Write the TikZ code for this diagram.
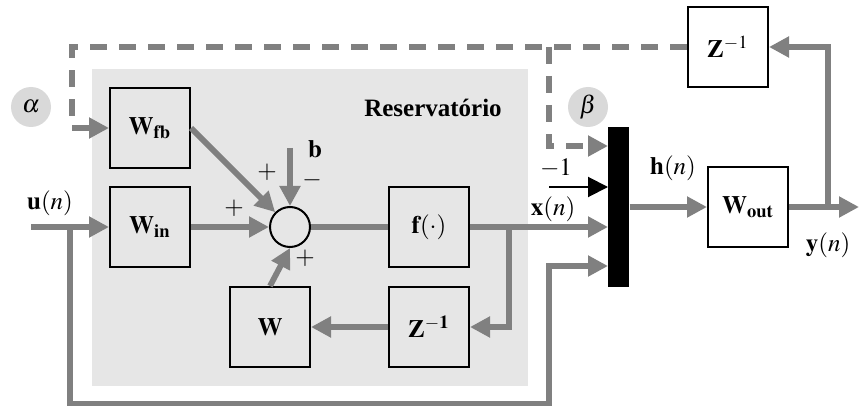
\documentclass[tikz,border=0pt]{standalone}
\usepackage{mathptmx}
\usepackage{fontspec}
\setmainfont{Liberation Serif}
\usetikzlibrary{arrows.meta}
\definecolor{Sg}{HTML}{808080}
\definecolor{Rbg}{HTML}{E6E6E6}
\definecolor{Gk}{HTML}{D9D9D9}
\tikzset{
  blk/.style={rectangle, draw=black, line width=0.8pt, minimum size=32pt, inner sep=0pt},
  sumc/.style={circle, draw=black, fill=Rbg, line width=0.8pt, minimum size=16pt, inner sep=0pt},
  barc/.style={rectangle, fill=black, minimum width=8.4pt, minimum height=64pt, inner sep=0pt},
  gk/.style={circle, fill=Gk, minimum size=16pt, inner sep=0pt},
  sig/.style={draw=Sg, line width=2.3pt, line join=miter, -{Triangle[length=8pt, width=8pt]}},
  wire/.style={draw=Sg, line width=2.3pt},
  fbsig/.style={sig, dash pattern=on 6.8pt off 4.8pt},
  neg/.style={draw=black, line width=0.8pt, -{Triangle[length=8pt, width=8pt]}},
  lbl/.style={inner sep=0pt},
}
\begin{document}
\begin{tikzpicture}[x=0.4pt, y=-0.4pt]
  \useasboundingbox (0,0) rectangle (859,406);
  \fill[Rbg] (92,69) rectangle (528,386);
  \node[font=\bfseries, lbl] (reslbl) at (433,108) {Reservatório};
  \node[blk] (wfb) at (150,128) {$\mathbf{W_{fb}}$};
  \node[blk] (win) at (150,227) {$\mathbf{W_{in}}$};
  \node[sumc] (sum) at (290,227) {};
  \node[blk] (fx) at (429,227) {$\mathbf{f}(\cdot)$};
  \node[blk] (zin) at (429,327) {$\mathbf{Z}^{\mathbf{-1}}$};
  \node[blk] (w) at (270,327) {$\mathbf{W}$};
  \node[barc] (bar) at (618.5,207) {};
  \node[blk] (wout) at (748,207) {$\mathbf{W_{out}}$};
  \node[blk] (zout) at (728,47) {$\mathbf{Z}^{-1}$};
  \node[gk] (alpha) at (31,107) {$\alpha$};
  \node[gk] (beta) at (588,107) {$\beta$};
  \coordinate (uin) at (31,227);
  \coordinate (usplit) at (70,227);
  \coordinate (ucorner) at (549,404);
  \coordinate (bin1) at (608,146);
  \coordinate (bin2) at (608,187);
  \coordinate (bin3) at (608,227);
  \coordinate (bin4) at (608,266);
  \coordinate (bstart) at (290,148);
  \coordinate (xsplit) at (509,227);
  \coordinate (minone) at (549,187);
  \coordinate (yout) at (859,207);
  \coordinate (ysplit) at (828,207);
  \coordinate (dleft) at (72,128);
  \coordinate (dsplit) at (549,47);
  \draw[fbsig] (zout) -| (dleft) -- (wfb);
  \draw[fbsig] (dsplit) |- (bin1);
  \draw[sig] (uin) -- (win);
  \draw[sig] (usplit) |- (ucorner) |- (bin4);
  \draw[sig] (win) -- (sum);
  \draw[sig] (wfb.east) -- (sum.north west);
  \draw[sig] (bstart) -- (sum);
  \draw[sig] (w.north) -- (sum.south);
  \draw[wire] (sum) -- (fx);
  \draw[sig] (fx) -- (bin3);
  \draw[sig] (xsplit) |- (zin);
  \draw[sig] (zin) -- (w);
  \draw[neg] (minone) -- (bin2);
  \draw[sig] (bar) -- (wout);
  \draw[sig] (wout) -- (yout);
  \draw[sig] (ysplit) |- (zout);
  \node[lbl] (ulbl) at (50,203) {$\mathbf{u}(n)$};
  \node[lbl] (p1) at (234,208) {$+$};
  \node[lbl] (p2) at (267,172) {$+$};
  \node[lbl] (m1) at (312,180) {$-$};
  \node[lbl] (blbl) at (315,149) {$\mathbf{b}$};
  \node[lbl] (p3) at (305,258) {$+$};
  \node[lbl] (xlbl) at (553,209) {$\mathbf{x}(n)$};
  \node[lbl] (mlbl) at (556,168) {$-1$};
  \node[lbl] (hlbl) at (673,168) {$\mathbf{h}(n)$};
  \node[lbl] (ylbl) at (828,245) {$\mathbf{y}(n)$};
\end{tikzpicture}
\end{document}
